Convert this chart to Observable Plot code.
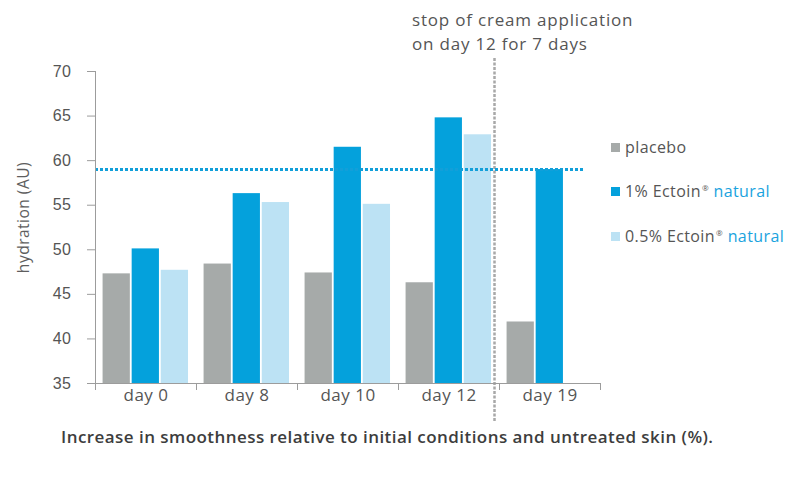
<!DOCTYPE html>
<html>
<head>
<meta charset="utf-8">
<script src="https://cdn.jsdelivr.net/npm/d3@7"></script>
<script src="https://cdn.jsdelivr.net/npm/@observablehq/plot@0.6"></script>
<style>
  body { margin: 0; background: #fff; }
  #wrap { position: relative; width: 800px; height: 500px; font-family: "Open Sans", sans-serif; color: #555; }
  #chart { position: absolute; left: 0; top: 0; }
  #chart svg text { letter-spacing: 0.5px; }
  #note { position: absolute; left: 412px; top: 8px; font-size: 17px; letter-spacing: 0.8px; line-height: 24px; color: #555; }
  .item { position: absolute; left: 611px; height: 24px; display: flex; align-items: center; font-size: 16px; letter-spacing: 0.4px; color: #555; white-space: nowrap; }
  .sw { width: 9px; height: 9px; margin-right: 5px; }
  .nat { color: #1aa3de; }
  .reg { font-size: 8px; position: relative; top: -6px; margin-left: 1px; }
  #caption { position: absolute; left: 61px; top: 426px; font-size: 17px; font-weight: 600; color: #3d3d3d; letter-spacing: 0.45px; line-height: 22px; white-space: nowrap; }
</style>
</head>
<body>
<div id="wrap">
  <div id="note">stop of cream application<br>on day 12 for 7 days</div>
  <div id="chart"></div>
  <div id="legend"></div>
  <div id="caption">Increase in smoothness relative to initial conditions and untreated skin (%).</div>
</div>
<script>
// ---- data ----
const days = ["day 0", "day 8", "day 10", "day 12", "day 19"];
const seriesNames = ["placebo", "1% Ectoin® natural", "0.5% Ectoin® natural"];
const placebo  = [47.3, 48.4, 47.4, 46.3, 41.9];
const ectoin1  = [50.1, 56.3, 61.5, 64.8, 59.0];
const ectoin05 = [47.7, 55.3, 55.1, 62.9, null];
const yTicks = [35, 40, 45, 50, 55, 60, 65, 70];
const referenceLevel = 59;
const stopDay = "day 12";
const colors = ["#a6aaa9", "#04a1dc", "#bce2f4"];

const seriesValues = [placebo, ectoin1, ectoin05];
const rows = [];
seriesValues.forEach((vals, j) => vals.forEach((v, i) => {
  if (v != null) rows.push({day: days[i], i, j, series: seriesNames[j], value: v});
}));

// grouped-bar layout within each day band (fractions of one band)
const pad = 0.075, step = 0.288, bw = 0.27;
const axisColor = "#9c9c9c";

const chart = Plot.plot({
  width: 800,
  height: 425,
  marginLeft: 95,
  marginRight: 200,
  marginTop: 71,
  marginBottom: 42,
  style: {fontFamily: "Open Sans", color: "#555", background: "transparent"},
  x: {domain: [0, days.length]},
  y: {domain: [yTicks[0], yTicks[yTicks.length - 1]]},
  color: {domain: seriesNames, range: colors},
  marks: [
    Plot.rect(rows, {
      x1: d => d.i + pad + d.j * step,
      x2: d => d.i + pad + d.j * step + bw,
      y1: yTicks[0],
      y2: "value",
      fill: "series"
    }),
    Plot.ruleX([days.indexOf(stopDay) + 1], {dx: -5, stroke: "#a8a8a8", strokeWidth: 2.5, strokeDasharray: "3 1.5", insetTop: -13, insetBottom: -39}),
    Plot.ruleY([referenceLevel], {stroke: "#129fd9", strokeWidth: 3, strokeDasharray: "3 2", insetRight: 15}),
    Plot.ruleY([yTicks[0]], {stroke: axisColor}),
    Plot.ruleX([0], {stroke: axisColor}),
    Plot.axisY(yTicks, {tickSize: 8, tickPadding: 16, fontSize: 16, fontFamily: "Liberation Sans", label: null, stroke: axisColor, fill: "#555"}),
    Plot.axisX(d3.range(days.length + 1), {tickSize: 7, tickFormat: () => "", label: null, stroke: axisColor}),
    Plot.axisX(days.map((d, i) => i + 0.5), {tickSize: 0, tickPadding: 5, tickFormat: v => days[v - 0.5], fontSize: 17, label: null, fill: "#555"}),
    Plot.text(["hydration (AU)"], {frameAnchor: "left", textAnchor: "middle", lineAnchor: "middle", rotate: -90, dx: -71, dy: -10, fontSize: 15.5, fill: "#5e5e5e"})
  ]
});
document.getElementById("chart").appendChild(chart);

// legend
const legendCenters = [147, 191, 236];
const legend = document.getElementById("legend");
seriesNames.forEach((name, j) => {
  const item = document.createElement("div");
  item.className = "item";
  item.style.top = (legendCenters[j] - 12) + "px";
  const sw = document.createElement("span");
  sw.className = "sw";
  sw.style.background = colors[j];
  item.appendChild(sw);
  const label = document.createElement("span");
  label.innerHTML = name.replace("®", '<span class="reg">®</span>').replace("natural", '<span class="nat">natural</span>');
  item.appendChild(label);
  legend.appendChild(item);
});
</script>
</body>
</html>
